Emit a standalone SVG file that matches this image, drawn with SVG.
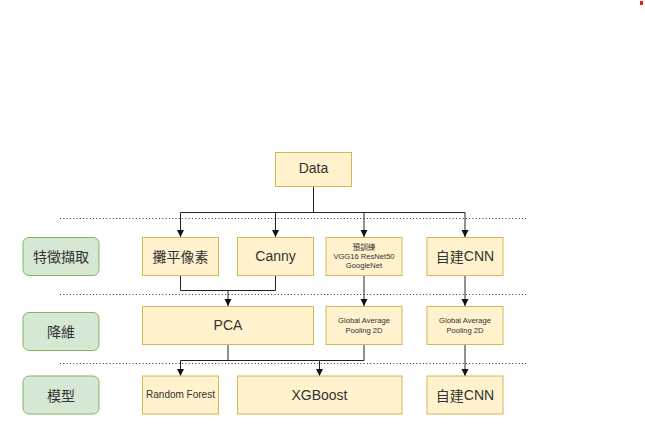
<svg xmlns="http://www.w3.org/2000/svg" width="645" height="424" viewBox="0 0 645 424">
<defs>
<style>
.node{fill:#fff2cc;stroke:#d6b656;stroke-width:1}
.lab{fill:#d5e8d4;stroke:#82b366;stroke-width:1}
.t{font-family:"Liberation Sans","Noto Sans CJK TC",sans-serif;fill:#333;text-anchor:middle;dominant-baseline:central}
.c{font-family:"Noto Sans CJK TC","Liberation Sans",sans-serif;fill:#333;text-anchor:middle;dominant-baseline:central}
.e{fill:none;stroke:#222;stroke-width:1}
.dot{fill:none;stroke:#333;stroke-width:1;stroke-dasharray:1 2.3}
</style>
<marker id="arr" markerWidth="8" markerHeight="8" refX="7" refY="4" orient="auto" markerUnits="userSpaceOnUse" viewBox="0 0 8 8">
<path d="M0,0.5 L7,4 L0,7.5 Z" fill="#111"/>
</marker>
</defs>
<rect width="645" height="424" fill="#ffffff"/>
<rect x="640" y="1" width="3" height="4" fill="#e02020"/>

<g id="separators">
<line class="dot" x1="60" y1="218.5" x2="527" y2="218.5"/>
<line class="dot" x1="60" y1="294.5" x2="527" y2="294.5"/>
<line class="dot" x1="60" y1="363.5" x2="527" y2="363.5"/>
</g>

<g id="connectors">
<path class="e" d="M313.5,186 V212.5 H180.5 V237" marker-end="url(#arr)"/>
<path class="e" d="M313.5,212.5 H275.5 V237" marker-end="url(#arr)"/>
<path class="e" d="M313.5,212.5 H364 V237" marker-end="url(#arr)"/>
<path class="e" d="M313.5,212.5 H465 V237" marker-end="url(#arr)"/>
<path class="e" d="M180.5,275 V290.5 H275.5 V275"/>
<path class="e" d="M228,290.5 V306" marker-end="url(#arr)"/>
<path class="e" d="M364,275 V306" marker-end="url(#arr)"/>
<path class="e" d="M465,275 V306" marker-end="url(#arr)"/>
<path class="e" d="M228,344 V360.5 H180.5 V376" marker-end="url(#arr)"/>
<path class="e" d="M228,360.5 H319.5 V376" marker-end="url(#arr)"/>
<path class="e" d="M364,344 V360.5 H319.5"/>
<path class="e" d="M465,344 V376" marker-end="url(#arr)"/>
</g>

<g id="data"><rect class="node" x="275.5" y="152.5" width="76" height="34"/><text class="t" x="313.5" y="168" font-size="14">Data</text></g>

<g id="label-feature"><rect class="lab" x="23" y="237.5" width="76" height="38" rx="6"/><text class="c" x="61" y="256" font-size="14">特徵擷取</text></g>
<g id="flatten"><rect class="node" x="142.5" y="237.5" width="76" height="38"/><text class="c" x="180.5" y="256" font-size="14">攤平像素</text></g>
<g id="canny"><rect class="node" x="237.5" y="237.5" width="76" height="38"/><text class="t" x="275.5" y="256" font-size="14">Canny</text></g>
<g id="pretrained"><rect class="node" x="326" y="237.5" width="76" height="38"/>
<text class="c" x="364" y="246.5" font-size="7.6">預訓練</text>
<text class="t" x="364" y="256" font-size="7.6">VGG16 ResNet50</text>
<text class="t" x="364" y="265.3" font-size="7.6">GoogleNet</text></g>
<g id="cnn1"><rect class="node" x="427" y="237.5" width="76" height="38"/><text class="c" x="465" y="256" font-size="14">自建<tspan font-family="Liberation Sans">CNN</tspan></text></g>

<g id="label-reduce"><rect class="lab" x="23" y="312.5" width="76" height="38" rx="6"/><text class="c" x="61" y="331" font-size="14">降維</text></g>
<g id="pca"><rect class="node" x="142.5" y="306.5" width="171" height="38"/><text class="t" x="228" y="325" font-size="14">PCA</text></g>
<g id="gap1"><rect class="node" x="326" y="306.5" width="76" height="38"/>
<text class="t" x="364" y="320.7" font-size="7.6">Global Average</text>
<text class="t" x="364" y="330" font-size="7.6">Pooling 2D</text></g>
<g id="gap2"><rect class="node" x="427" y="306.5" width="76" height="38"/>
<text class="t" x="465" y="320.7" font-size="7.6">Global Average</text>
<text class="t" x="465" y="330" font-size="7.6">Pooling 2D</text></g>

<g id="label-model"><rect class="lab" x="23" y="376" width="76" height="38" rx="6"/><text class="c" x="61" y="394.5" font-size="14">模型</text></g>
<g id="rf"><rect class="node" x="142.5" y="376" width="76" height="38"/><text class="t" x="180.5" y="394.5" font-size="10">Random Forest</text></g>
<g id="xgb"><rect class="node" x="237.5" y="376" width="164.5" height="38"/><text class="t" x="319.5" y="394.5" font-size="14">XGBoost</text></g>
<g id="cnn2"><rect class="node" x="427" y="376" width="76" height="38"/><text class="c" x="465" y="394.5" font-size="14">自建<tspan font-family="Liberation Sans">CNN</tspan></text></g>
</svg>
